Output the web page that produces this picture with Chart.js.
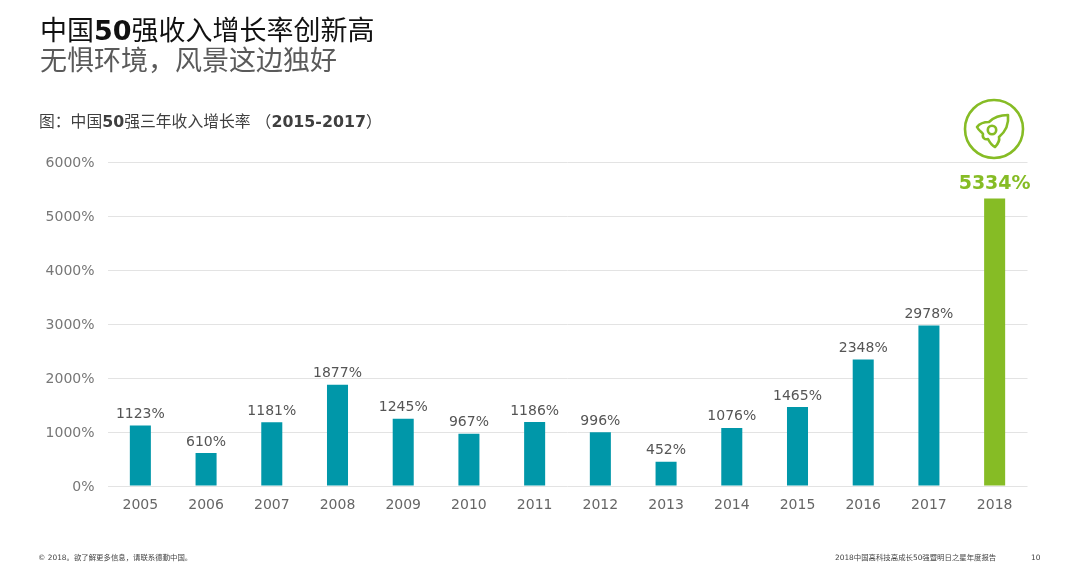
<!DOCTYPE html>
<html lang="zh">
<head>
<meta charset="utf-8">
<script src="https://cdn.jsdelivr.net/npm/chart.js@4"></script>
<style>
html,body{margin:0;padding:0;background:#fff;width:1080px;height:584px;overflow:hidden}
body{position:relative;font-family:"DejaVu Sans","Noto Sans CJK SC",sans-serif}
canvas{position:absolute;left:0;top:0}
.t{position:absolute;white-space:nowrap;font-family:"DejaVu Sans","Noto Sans CJK SC",sans-serif;line-height:1}
.t b{font-weight:700}
#title{left:40px;top:17px;font-size:27px;color:#111}
#sub{left:40px;top:47px;font-size:27px;color:#5a5a5a}
#head{left:39px;top:114px;font-size:15.8px;color:#3f3f3f}
.foot{font-size:7.4px;color:#444;top:554px}
#rocket{position:absolute;left:963px;top:98px;width:62px;height:62px}
</style>
</head>
<body>
<canvas id="c" width="1080" height="584"></canvas>
<div class="t" id="title">中国<b>50</b>强收入增长率创新高</div>
<div class="t" id="sub">无惧环境，风景这边独好</div>
<div class="t" id="head">图：中国<b>50</b>强三年收入增长率 （<b>2015-2017</b>）</div>
<div class="t foot" style="left:38px">© 2018。欲了解更多信息，请联系德勤中国。</div>
<div class="t foot" style="left:835px">2018中国高科技高成长50强暨明日之星年度报告</div>
<div class="t foot" style="left:1031px">10</div>
<svg id="rocket" viewBox="0 0 62 62" fill="none" stroke="#86bc25" stroke-linecap="round" stroke-linejoin="round">
  <circle cx="31" cy="31" r="29" stroke-width="2.6"/>
  <path stroke-width="2.6" d="M45 17 C38 17 31 19 26 24 C22 24 17 25 14 29 C16 33 19 34 20 36 C19 40 22 42 25 41 C27 45 30 48 32 49 C35 46 37 43 36 39 C42 34 46 26 45 17 Z"/>
  <circle cx="29" cy="32" r="4.2" stroke-width="2.6"/>
</svg>
<script>
const categories = ["2005","2006","2007","2008","2009","2010","2011","2012","2013","2014","2015","2016","2017","2018"];
const growthValues = [1123,610,1181,1877,1245,967,1186,996,452,1076,1465,2348,2978,5334];
const yTicks = [0,1000,2000,3000,4000,5000,6000];
const TEAL = "#0097a9", GREEN = "#86bc25";
const barColors = categories.map((c,i)=> i===categories.length-1 ? GREEN : TEAL);

const valueLabels = {
  id:"valueLabels",
  afterDatasetsDraw(chart){
    const {ctx} = chart;
    const meta = chart.getDatasetMeta(0);
    ctx.save();
    ctx.textAlign = "center";
    ctx.textBaseline = "alphabetic";
    meta.data.forEach((bar,i)=>{
      const last = i===meta.data.length-1;
      ctx.font = (last?"bold 19px ":"14px ")+'"DejaVu Sans"';
      ctx.fillStyle = last ? GREEN : "#555555";
      ctx.fillText(growthValues[i]+"%", bar.x, bar.y-(last?9:7.5));
    });
    ctx.restore();
  }
};

new Chart(document.getElementById("c"),{
  type:"bar",
  data:{labels:categories,datasets:[{data:growthValues,backgroundColor:barColors,barPercentage:0.32,categoryPercentage:1}]},
  options:{
    responsive:false,animation:false,
    layout:{padding:{left:0,right:52.5,top:162.5,bottom:70}},
    plugins:{legend:{display:false},title:{display:false},tooltip:{enabled:false}},
    scales:{
      x:{
        grid:{display:false,drawTicks:false},
        border:{display:false},
        ticks:{color:"#666666",font:{family:"DejaVu Sans",size:14},padding:11,maxRotation:0},
        afterFit(s){s.height=28;}
      },
      y:{
        min:0,max:6000,
        afterBuildTicks(s){s.ticks=yTicks.map(v=>({value:v}));},
        grid:{color:"#e3e3e3",lineWidth:1,drawTicks:false},
        border:{display:false},
        ticks:{color:"#777777",font:{family:"DejaVu Sans",size:14},padding:13,labelOffset:1,callback:v=>v+"%"},
        afterFit(s){s.width=107.5;}
      }
    }
  },
  plugins:[valueLabels]
});
</script>
</body>
</html>
